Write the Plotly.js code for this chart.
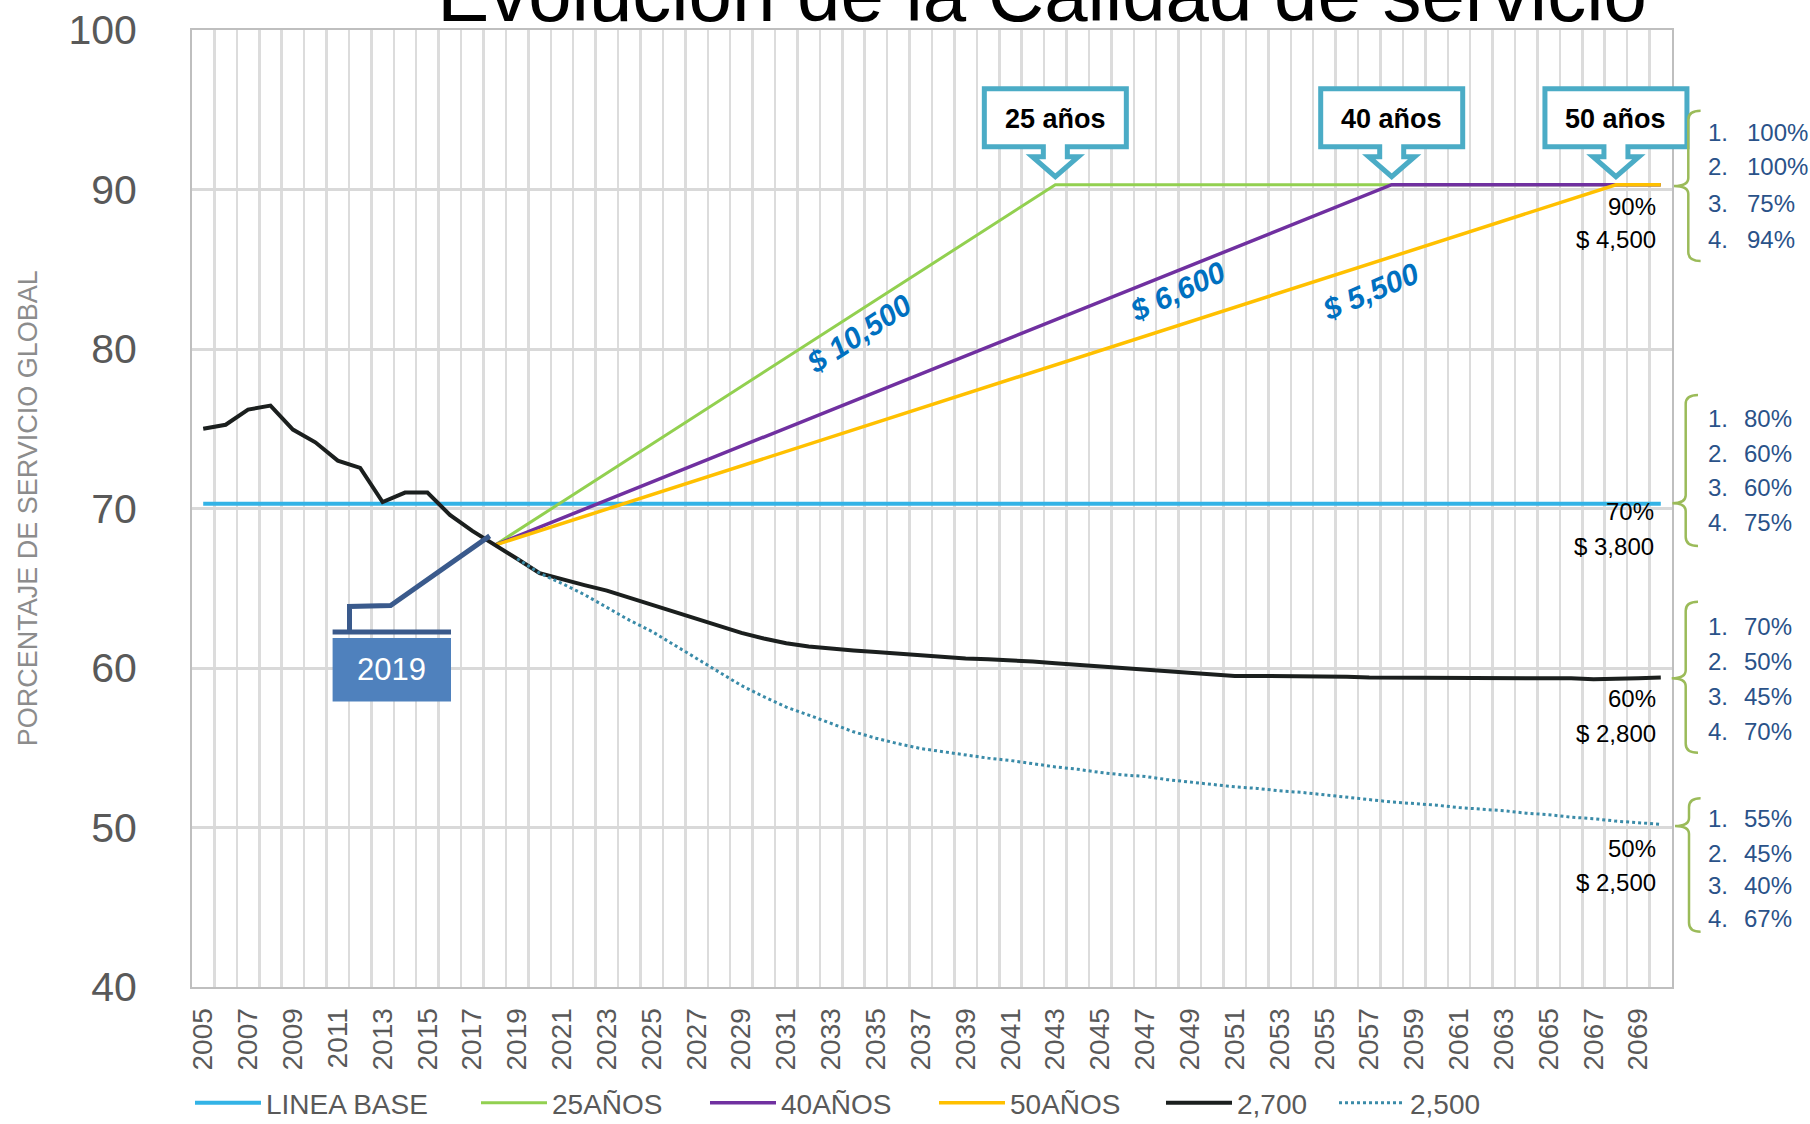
<!DOCTYPE html>
<html><head><meta charset="utf-8">
<script src="https://cdn.plot.ly/plotly-3.0.1.min.js"></script>
<style>html,body{margin:0;padding:0;background:#fff;}#chart{width:1810px;height:1124px;}</style>
</head><body><div id="chart"></div>
<script>
// ---------- DATA ----------
const years = [2005,2006,2007,2008,2009,2010,2011,2012,2013,2014,2015,2016,2017,2018,2019,2020,2021,2022,2023,2024,2025,2026,2027,2028,2029,2030,2031,2032,2033,2034,2035,2036,2037,2038,2039,2040,2041,2042,2043,2044,2045,2046,2047,2048,2049,2050,2051,2052,2053,2054,2055,2056,2057,2058,2059,2060,2061,2062,2063,2064,2065,2066,2067,2068,2069,2070];
const tickYears = [2005,2007,2009,2011,2013,2015,2017,2019,2021,2023,2025,2027,2029,2031,2033,2035,2037,2039,2041,2043,2045,2047,2049,2051,2053,2055,2057,2059,2061,2063,2065,2067,2069];
const serie2700 = [75.0,75.25,76.2,76.45,74.95,74.15,73.0,72.55,70.4,71.0,71.0,69.6,68.6,67.75,66.85,65.95,65.55,65.2,64.85,64.4,63.95,63.55,63.1,62.65,62.2,61.85,61.55,61.35,61.2,61.1,61.0,60.9,60.75,60.65,60.6,60.55,60.5,60.4,60.3,60.2,60.1,60.0,59.9,59.8,59.7,59.6,59.5,59.5,59.5,59.5,59.5,59.45,59.4,59.4,59.4,59.4,59.4,59.4,59.4,59.4,59.4,59.35,59.3,59.3,59.35,59.4];
const years2500 = [2019,2020,2021,2022,2023,2024,2025,2026,2027,2028,2029,2030,2031,2032,2033,2034,2035,2036,2037,2038,2039,2040,2041,2042,2043,2044,2045,2046,2047,2048,2049,2050,2051,2052,2053,2054,2055,2056,2057,2058,2059,2060,2061,2062,2063,2064,2065,2066,2067,2068,2069,2070];
const serie2500 = [66.85,65.95,65.3,64.6,63.8,63.0,62.3,61.45,60.6,59.75,58.9,58.2,57.55,57.05,56.55,56.0,55.6,55.25,54.95,54.75,54.55,54.35,54.2,54.0,53.8,53.65,53.45,53.3,53.2,53.0,52.85,52.7,52.55,52.45,52.3,52.2,52.05,51.9,51.75,51.6,51.5,51.4,51.25,51.15,51.05,50.9,50.8,50.65,50.55,50.4,50.3,50.2];
const baseYears = [2005, 2070];
const baseValues = [70.3, 70.3];
const years25 = [2018, 2043, 2070];
const values25 = [67.7, 90.3, 90.3];
const years40 = [2018, 2058, 2070];
const values40 = [67.7, 90.3, 90.3];
const years50 = [2018, 2068, 2070];
const values50 = [67.7, 90.3, 90.3];
const seriesNames = ['LINEA BASE', '25AÑOS', '40AÑOS', '50AÑOS', '2,700', '2,500'];
const calloutLabels = ['25 años', '40 años', '50 años'];
const costLabels = ['$ 10,500', '$ 6,600', '$ 5,500'];
const endPct = ['90%', '70%', '60%', '50%'];
const endCost = ['$ 4,500', '$ 3,800', '$ 2,800', '$ 2,500'];
const groupNums = ['1.', '2.', '3.', '4.'];
const groupPct = [['100%','100%','75%','94%'], ['80%','60%','60%','75%'], ['70%','50%','45%','70%'], ['55%','45%','40%','67%']];
const yearLabel = '2019';

// ---------- LAYOUT HELPERS ----------
const F = '"Liberation Sans", Arial, sans-serif';
const PL = 192, PR = 1671.6, PT = 30.4, PB = 987;
const W = PR - PL, H = PB - PT;
const XR = [2004.5, 2070.5], YR = [40, 100];
const px = v => (v - PL) / W;
const py = v => (PB - v) / H;
const dx = v => (v - XR[0]) / (XR[1] - XR[0]);
const dy = v => (v - YR[0]) / (YR[1] - YR[0]);
function pixPath(cmds) {
  let out = '', i = 0;
  while (i < cmds.length) {
    const c = cmds[i++];
    if (c === 'Z') { out += 'Z'; continue; }
    const n = c === 'Q' ? 2 : 1;
    const pts = [];
    for (let k = 0; k < n; k++) { pts.push((cmds[i] - PL).toFixed(1) + ',' + (PB - cmds[i+1]).toFixed(1)); i += 2; }
    out += c + pts.join(' ') + ' ';
  }
  return out.trim();
}
function pixShape(cmds, line, fill) {
  return {type:'path', xref:'paper', yref:'paper', xsizemode:'pixel', ysizemode:'pixel', xanchor:0, yanchor:0,
    path: pixPath(cmds), line: line, fillcolor: fill || 'rgba(0,0,0,0)', layer:'above'};
}
function label(x, y, text, size, color, opts) {
  return Object.assign({xref:'paper', yref:'paper', x: px(x), y: py(y), xanchor:'center', yanchor:'middle',
    showarrow:false, text: text, font:{family:F, size:size, color:color}}, opts || {});
}

// ---------- TRACES ----------
const legendWidths = [205, 148, 148, 146, 92, 110];
const traces = [
  {x: baseYears, y: baseValues, name: seriesNames[0], line:{color:'#33B3E6', width:4}},
  {x: years25, y: values25, name: seriesNames[1], line:{color:'#92D050', width:3}},
  {x: years40, y: values40, name: seriesNames[2], line:{color:'#7030A0', width:3.5}},
  {x: years50, y: values50, name: seriesNames[3], line:{color:'#FFC000', width:3.5}},
  {x: years, y: serie2700, name: seriesNames[4], line:{color:'#1B1F1E', width:4}},
  {x: years2500, y: serie2500, name: seriesNames[5], line:{color:'#3A8BA8', width:3, dash:'dot'}}
].map((t, i) => Object.assign({type:'scatter', mode:'lines', hoverinfo:'skip', legendwidth: legendWidths[i]}, t));

// ---------- SHAPES & ANNOTATIONS ----------
const shapes = [];
const annotations = [];
const peakYears = [years25[1], years40[1], years50[1]];
const peakValues = [values25[1], values40[1], values50[1]];
const calloutPath = 'M-71,96 L71,96 L71,38 L12,38 L12,28 L23,28 L0,8 L-23,28 L-12,28 L-12,38 L-71,38 Z';
peakYears.forEach((yr, i) => {
  shapes.push({type:'path', xref:'paper', yref:'paper', xsizemode:'pixel', ysizemode:'pixel',
    xanchor: dx(yr), yanchor: dy(peakValues[i]), path: calloutPath,
    line:{color:'#4BACC6', width:5}, fillcolor:'#ffffff', layer:'above'});
  annotations.push({xref:'paper', yref:'paper', x: dx(yr), y: dy(peakValues[i]), yshift: 66,
    xanchor:'center', yanchor:'middle', showarrow:false,
    text:'<b>' + calloutLabels[i] + '</b>', font:{family:F, size:27, color:'#000'}});
});

// cost labels along the scenario lines
const costPos = [[859, 334, -33], [1177, 292, -25], [1370, 292, -23]];
costLabels.forEach((t, i) => {
  annotations.push(label(costPos[i][0], costPos[i][1], '<b><i>' + t + '</i></b>', 30, '#0070C0', {textangle: costPos[i][2]}));
});

// end labels (percent + cost), right aligned
const endPos = [[1658, 206.7, 240], [1656, 511.7, 546.7], [1658, 699, 733.3], [1658, 849, 883]];
endPct.forEach((t, i) => {
  annotations.push(label(endPos[i][0], endPos[i][1], t, 24, '#000', {xanchor:'right'}));
  annotations.push(label(endPos[i][0], endPos[i][2], endCost[i], 24, '#000', {xanchor:'right'}));
});

// brackets and numbered lists
const brackets = [
  [110.7, 261, 186, 1688.3, 1700.6, 1674],
  [395, 546, 503.3, 1685.7, 1698, 1672.4],
  [601.7, 752.7, 678.3, 1685.7, 1698, 1671.7],
  [798.3, 931.7, 826, 1689, 1700.6, 1675]
];
const listRows = [[132.7, 167.3, 204, 240], [418.3, 453.3, 487.7, 522.7], [626.7, 661.7, 696.7, 731.7], [818.3, 853.3, 885.5, 918.3]];
const listValX = [1745, 1742, 1742, 1742];
brackets.forEach((b, i) => {
  const [yT, yB, yM, xv, xh, xt] = b;
  shapes.push(pixShape(['M', xh, yT, 'Q', xv, yT, xv, yT + 9, 'L', xv, yM - 8, 'Q', xv, yM, xt, yM,
    'Q', xv, yM, xv, yM + 8, 'L', xv, yB - 9, 'Q', xv, yB, xh, yB], {color:'#9BBB59', width:2.5}));
  listRows[i].forEach((yy, k) => {
    annotations.push(label(1706, yy, groupNums[k], 24, '#2A5289', {xanchor:'left'}));
    annotations.push(label(listValX[i], yy, groupPct[i][k], 24, '#2A5289', {xanchor:'left'}));
  });
});

// 2019 label
shapes.push(pixShape(['M', 332.6, 701.6, 'L', 451, 701.6, 'L', 451, 638, 'L', 332.6, 638, 'Z'], {width:0}, '#4F81BD'));
shapes.push(pixShape(['M', 332.6, 632, 'L', 451, 632], {color:'#3A5A8C', width:5}));
shapes.push(pixShape(['M', 349.5, 632, 'L', 349.5, 606.5, 'L', 390.6, 605.5, 'L', 489.7, 535.9], {color:'#3A5A8C', width:5}));
annotations.push(label(391.8, 670, yearLabel, 31, '#ffffff'));

// y axis title
annotations.push(label(28, 508.6, 'PORCENTAJE DE SERVICIO GLOBAL', 27, '#8C8C8C', {textangle:-90}));

const layout = {
  width:1810, height:1124,
  margin:{l:PL, r:1810 - PR, t:PT, b:1124 - PB, pad:0, autoexpand:false},
  paper_bgcolor:'#ffffff', plot_bgcolor:'#ffffff',
  font:{family:F, color:'#595959'},
  title:{text:'Evolución de la Calidad de servicio', font:{family:F, size:78, color:'#000000'},
    xref:'container', yref:'container', x: 1042/1810, xanchor:'center', y: 1 - 21/1124, yanchor:'bottom'},
  xaxis:{type:'linear', range:XR, tickmode:'array', tickvals: tickYears, ticktext: tickYears.map(String),
    tickangle:-90, tickfont:{family:F, size:28, color:'#595959'}, showgrid:false, zeroline:false,
    showline:true, linecolor:'#BFBFBF', linewidth:2, mirror:true, ticks:'', ticklabelstandoff:8,
    minor:{tickmode:'linear', tick0:2004.5, dtick:1, showgrid:true, gridcolor:'#DCDCDC', gridwidth:2.5, ticks:''}},
  yaxis:{range:YR, tickmode:'linear', tick0:40, dtick:10, tickfont:{family:F, size:41, color:'#595959'},
    showgrid:true, gridcolor:'#D9D9D9', gridwidth:3, zeroline:false, showline:true, linecolor:'#BFBFBF',
    linewidth:2, mirror:true, ticks:'', ticklabelstandoff:45},
  showlegend:true,
  legend:{orientation:'h', x: px(190), xanchor:'left', y: py(1103), yanchor:'middle',
    font:{family:F, size:28, color:'#595959'}, itemwidth:66, bgcolor:'rgba(0,0,0,0)', traceorder:'normal'},
  shapes: shapes,
  annotations: annotations
};

Plotly.newPlot('chart', traces, layout, {displayModeBar:false, staticPlot:true});
</script>
</body></html>
